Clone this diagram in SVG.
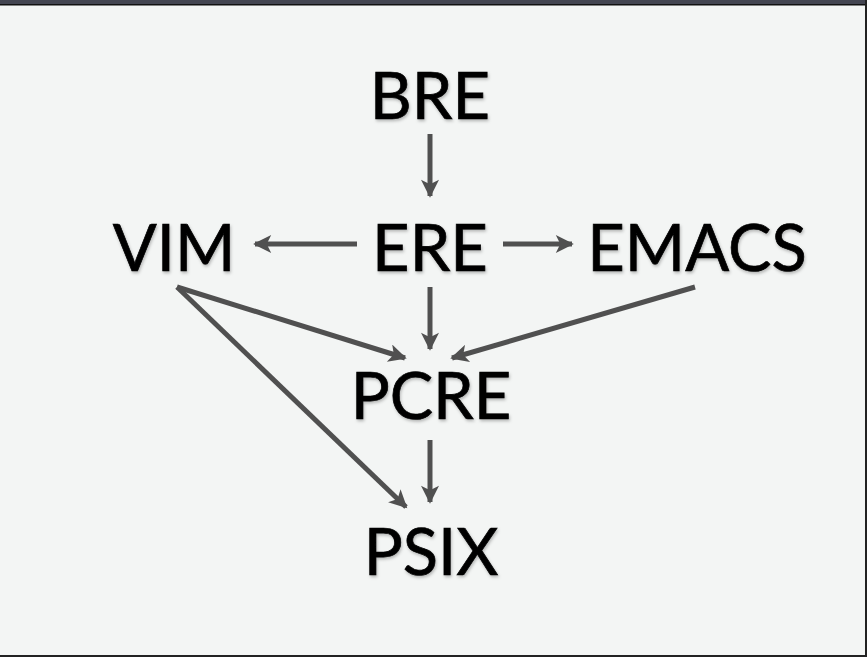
<svg xmlns="http://www.w3.org/2000/svg" width="867" height="657" viewBox="0 0 867 657">
<defs>
<style>
.lbl{font-family:Lato,"Open Sans","Liberation Sans",sans-serif;font-size:65px;fill:#000;stroke:#000;stroke-width:0.7px;text-anchor:middle;}
.edge{stroke:#505050;stroke-width:5;fill:none;marker-end:url(#ah);}
</style>
<marker id="ah" viewBox="0 0 10 10" refX="9" refY="5" markerUnits="userSpaceOnUse" markerWidth="20" markerHeight="18" orient="auto">
<path d="M0,0 L10,5 L0,10 L2.5,5 Z" fill="#505050"/>
</marker>
<filter id="sh" x="-10%" y="-10%" width="120%" height="130%">
<feDropShadow dx="1" dy="2" stdDeviation="1.5" flood-color="#000" flood-opacity="0.25"/>
</filter>
</defs>
<rect x="0" y="0" width="867" height="657" fill="#f3f5f4"/>
<rect x="0" y="0" width="867" height="4" fill="#434551"/>
<rect x="0" y="4" width="867" height="1.5" fill="#111"/>
<rect x="865" y="0" width="2" height="657" fill="#222"/>
<rect x="0" y="655" width="867" height="2" fill="#222"/>
<g id="connectors">
<line class="edge" x1="430" y1="134" x2="430" y2="196"/>
<line class="edge" x1="357" y1="244" x2="255" y2="244"/>
<line class="edge" x1="503" y1="244" x2="572" y2="244"/>
<line class="edge" x1="430" y1="287" x2="430" y2="349"/>
<line class="edge" x1="177" y1="287" x2="405" y2="358"/>
<line class="edge" x1="695" y1="287" x2="452" y2="358"/>
<line class="edge" x1="177" y1="287" x2="406" y2="507"/>
<line class="edge" x1="430" y1="440" x2="430" y2="502"/>
</g>
<g filter="url(#sh)">
<g id="BRE"><text class="lbl" x="430" y="119">BRE</text></g>
<g id="VIM"><text class="lbl" x="174" y="271">VIM</text></g>
<g id="ERE"><text class="lbl" x="430" y="271">ERE</text></g>
<g id="EMACS"><text class="lbl" x="697" y="271">EMACS</text></g>
<g id="PCRE"><text class="lbl" x="431" y="419">PCRE</text></g>
<g id="PSIX"><text class="lbl" x="431" y="575">PSIX</text></g>
</g>
</svg>
